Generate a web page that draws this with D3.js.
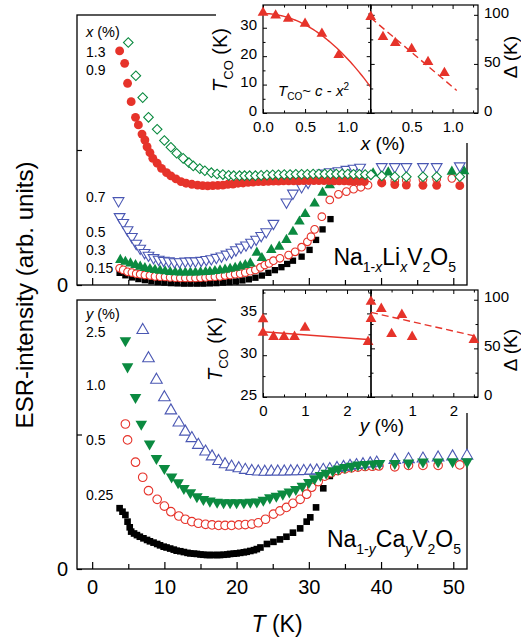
<!DOCTYPE html>
<html>
<head>
<meta charset="utf-8">
<script src="https://cdn.jsdelivr.net/npm/d3@7"></script>
<style>
  body { margin: 0; background: #fff; }
  svg { display: block; font-family: "Liberation Sans", Arial, sans-serif; }
  .axis text { font-size: 20px; fill: #000; }
  .axis line { stroke: #000; stroke-width: 1.2; }
  .inset text { font-size: 15px; }
  .inset line { stroke-width: 1; }
</style>
</head>
<body>
<div id="chart"></div>
<script>
// ---------- Na(1-x)Li(x)V2O5: ESR intensity vs T, [T (K), intensity] ----------
const liLabels = ["1.3", "0.9", "0.7", "0.5", "0.3", "0.15"];

const li13 = [[5.0,0.898],[6.05,0.775],[7.0,0.694],[7.8,0.621],[9.0,0.577],[10.0,0.535],[10.9,0.510],[11.7,0.488],
  [12.6,0.469],[13.4,0.453],[14.0,0.441],[14.9,0.431],[15.6,0.423],[16.5,0.416],[17.3,0.411],[18.1,0.409],[18.9,0.406],
  [19.6,0.405],[20.4,0.405],[21.1,0.405],[21.8,0.405],[22.6,0.405],[23.4,0.406],[24.2,0.407],[25.0,0.408],[25.8,0.408],
  [26.6,0.409],[27.4,0.409],[28.2,0.410],[29.0,0.410],[29.8,0.410],[30.6,0.411],[31.4,0.411],[32.2,0.411],[33.0,0.411],
  [33.8,0.411],[34.6,0.411],[35.4,0.411],[36.2,0.410],[37.0,0.410],[37.8,0.409],[38.6,0.408],[40.1,0.404],[41.9,0.401],
  [43.5,0.401],[45.8,0.401],[47.7,0.401],[50.9,0.401]];

const li09 = [[3.8,0.867],[4.5,0.821],[4.9,0.747],[5.4,0.679],[6.0,0.621],[6.4,0.593],[6.9,0.559],[7.3,0.537],[7.6,0.512],
  [8.0,0.490],[8.4,0.469],[9.0,0.451],[9.6,0.432],[10.3,0.416],[10.9,0.404],[11.6,0.393],[12.3,0.383],[13.0,0.377],
  [13.8,0.373],[14.6,0.370],[15.3,0.368],[16.0,0.367],[16.7,0.368],[17.4,0.369],[18.1,0.370],[18.8,0.373],[19.5,0.374],
  [20.2,0.377],[20.9,0.378],[21.6,0.380],[22.3,0.381],[23.0,0.383],[23.7,0.383],[24.4,0.384],[25.1,0.385],[25.8,0.385],
  [26.5,0.386],[27.2,0.386],[27.9,0.386],[28.6,0.386],[29.3,0.387],[30.0,0.387],[30.7,0.387],[31.4,0.387],[32.1,0.387],
  [32.8,0.387],[33.5,0.386],[34.2,0.386],[34.9,0.386],[35.6,0.385],[36.3,0.385],[37.0,0.384],[37.7,0.383],[40.1,0.378],
  [41.9,0.372],[43.5,0.370],[45.8,0.369],[47.7,0.369],[50.9,0.368]];

const li07 = [[3.65,0.312],[3.8,0.253],[4.3,0.231],[4.9,0.204],[5.5,0.179],[6.1,0.154],[6.65,0.136],[7.25,0.120],[7.8,0.110],
  [8.5,0.101],[9.2,0.095],[9.9,0.091],[10.6,0.089],[11.4,0.086],[12.1,0.086],[12.9,0.088],[13.6,0.089],[14.3,0.089],
  [15.1,0.091],[15.8,0.094],[16.5,0.097],[17.2,0.102],[17.9,0.107],[18.6,0.114],[19.3,0.121],[19.9,0.130],[20.6,0.140],
  [21.3,0.148],[22.0,0.158],[22.7,0.169],[23.4,0.183],[24.1,0.197],[25.1,0.228],[26.9,0.307],[27.8,0.340],[29.0,0.364],
  [29.9,0.380],[30.8,0.399],[31.9,0.414],[32.9,0.419],[34.1,0.423],[35.2,0.428],[36.2,0.432],[37.1,0.436],[40.1,0.438],
  [41.9,0.438],[43.5,0.438],[45.8,0.438],[47.7,0.438],[50.9,0.441]];

const li05 = [[3.9,0.093],[4.6,0.086],[5.3,0.080],[6.0,0.074],[6.65,0.068],[7.3,0.063],[8.0,0.059],[8.7,0.056],[9.4,0.053],
  [10.1,0.051],[10.8,0.048],[11.5,0.047],[12.2,0.046],[12.9,0.046],[13.6,0.046],[14.3,0.046],[15.0,0.047],[15.7,0.048],
  [16.3,0.049],[17.0,0.052],[17.7,0.054],[18.4,0.057],[19.1,0.060],[19.8,0.064],[20.5,0.069],[21.2,0.074],[21.9,0.080],
  [22.8,0.120],[23.5,0.100],[24.8,0.130],[25.9,0.142],[26.9,0.167],[27.8,0.197],[28.7,0.235],[29.5,0.263],[30.8,0.302],
  [31.9,0.342],[32.9,0.370],[34.3,0.389],[35.7,0.401],[37.1,0.407],[38.9,0.414],[41.0,0.417],[49.8,0.420],[51.5,0.421]];

const li03 = [[3.8,0.062],[4.3,0.056],[4.9,0.049],[5.5,0.046],[6.1,0.042],[6.65,0.040],[7.3,0.037],[8.0,0.035],[8.7,0.032],
  [9.4,0.031],[10.1,0.030],[10.8,0.028],[11.5,0.027],[12.2,0.026],[12.9,0.026],[13.6,0.026],[14.3,0.026],[15.0,0.027],
  [15.7,0.028],[16.3,0.030],[17.0,0.031],[17.7,0.032],[18.4,0.035],[19.1,0.037],[19.8,0.040],[20.5,0.042],[21.2,0.046],
  [21.9,0.051],[22.6,0.056],[23.3,0.065],[23.9,0.074],[24.5,0.080],[25.1,0.090],[26.0,0.099],[27.2,0.111],[28.1,0.123],
  [29.0,0.140],[29.8,0.160],[30.3,0.179],[30.8,0.206],[31.8,0.253],[32.9,0.315],[34.1,0.336],[35.2,0.346],[36.2,0.355],
  [37.2,0.362],[38.2,0.370],[40.1,0.380],[41.9,0.385],[43.5,0.388],[45.8,0.391],[47.7,0.393],[49.8,0.395]];

const li015 = [[3.8,0.045],[4.6,0.036],[5.5,0.028],[6.4,0.022],[7.3,0.018],[8.2,0.014],[9.1,0.011],[10.0,0.009],[10.9,0.007],
  [11.8,0.006],[12.7,0.005],[13.6,0.005],[14.5,0.005],[15.4,0.005],[16.3,0.006],[17.2,0.007],[18.1,0.009],[19.0,0.011],
  [19.9,0.013],[20.8,0.017],[21.7,0.021],[22.6,0.027],[23.5,0.035],[24.4,0.045],[25.3,0.055],[26.2,0.066],[27.0,0.078],
  [27.8,0.090],[29.0,0.105],[30.1,0.130],[31.0,0.167],[31.9,0.206],[33.0,0.244]];

// ---------- Na(1-y)Ca(y)V2O5 ----------
const caLabels = ["2.5", "1.0", "0.5", "0.25"];

const ca25 = [[7.0,0.888],[7.8,0.783],[8.9,0.703],[10.0,0.638],[10.9,0.589],[12.0,0.544],[12.9,0.510],[13.8,0.486],
  [14.7,0.461],[15.7,0.436],[16.6,0.418],[17.5,0.401],[18.4,0.389],[19.3,0.380],[20.3,0.374],[21.2,0.368],[22.1,0.364],
  [23.0,0.362],[23.9,0.361],[24.8,0.362],[25.7,0.362],[26.6,0.362],[27.5,0.363],[28.4,0.363],[29.3,0.364],[30.2,0.365],
  [31.1,0.366],[32.0,0.368],[32.9,0.371],[33.9,0.375],[34.8,0.379],[35.7,0.383],[36.6,0.386],[37.5,0.389],[38.5,0.392],
  [39.4,0.395],[41.9,0.405],[43.8,0.408],[45.8,0.410],[47.9,0.414],[49.9,0.418],[51.9,0.421]];

const ca10 = [[4.6,0.849],[4.9,0.752],[6.0,0.638],[6.8,0.539],[7.95,0.465],[8.9,0.411],[10.0,0.374],[11.0,0.343],
  [11.9,0.321],[12.7,0.300],[13.6,0.284],[14.5,0.269],[15.4,0.259],[16.3,0.253],[17.3,0.249],[18.2,0.247],[19.1,0.247],
  [20.0,0.247],[21.0,0.247],[21.9,0.249],[22.8,0.250],[23.7,0.256],[24.6,0.265],[25.5,0.271],[26.4,0.279],[27.3,0.287],
  [28.2,0.296],[29.1,0.308],[30.0,0.322],[30.8,0.336],[31.6,0.348],[32.4,0.357],[33.3,0.366],[34.1,0.372],[35.0,0.378],
  [35.9,0.383],[36.8,0.387],[37.8,0.389],[38.9,0.391],[39.8,0.393],[41.9,0.393],[43.8,0.395],[45.8,0.398],[47.9,0.398],
  [49.9,0.399],[51.9,0.399]];

const ca05 = [[4.6,0.539],[4.9,0.480],[6.0,0.397],[7.0,0.341],[7.8,0.291],[9.0,0.259],[10.0,0.234],[10.9,0.213],
  [12.0,0.197],[12.9,0.185],[13.8,0.176],[14.7,0.170],[15.7,0.166],[16.6,0.164],[17.5,0.162],[18.4,0.162],[19.3,0.162],
  [20.3,0.164],[21.2,0.165],[22.1,0.167],[23.0,0.172],[24.0,0.185],[25.1,0.204],[26.0,0.216],[26.9,0.229],[27.8,0.244],
  [28.8,0.259],[29.7,0.278],[30.4,0.304],[31.3,0.325],[32.2,0.345],[33.1,0.358],[34.0,0.366],[35.0,0.372],[35.9,0.376],
  [36.8,0.379],[37.8,0.381],[38.8,0.382],[39.7,0.383],[41.9,0.380],[43.8,0.385],[45.8,0.385],[47.9,0.385],[50.9,0.387]];

const ca025 = [[3.8,0.226],[4.2,0.213],[4.6,0.201],[4.9,0.176],[5.2,0.155],[5.4,0.139],[5.8,0.132],[6.2,0.126],[6.6,0.120],
  [7.1,0.114],[7.6,0.108],[8.0,0.103],[8.5,0.098],[9.0,0.093],[9.4,0.088],[9.9,0.083],[10.3,0.080],[10.8,0.076],
  [11.3,0.072],[11.7,0.068],[12.2,0.066],[12.7,0.063],[13.2,0.060],[13.6,0.058],[14.1,0.057],[14.5,0.056],[15.0,0.054],
  [15.4,0.053],[15.9,0.052],[16.3,0.052],[16.8,0.052],[17.3,0.052],[17.7,0.052],[18.2,0.053],[18.7,0.054],[19.1,0.056],
  [19.6,0.057],[20.0,0.058],[20.5,0.060],[21.0,0.062],[21.4,0.064],[21.9,0.067],[22.4,0.070],[22.8,0.074],[23.3,0.080],
  [24.2,0.093],[25.1,0.101],[26.0,0.110],[26.9,0.120],[27.8,0.135],[28.8,0.151],[29.7,0.176],[30.2,0.192],[31.0,0.229],
  [32.0,0.300],[32.9,0.346],[33.9,0.362]];

// ---------- insets: charge-order temperature and gap vs doping ----------
const liDoping = [0, 0.15, 0.3, 0.5, 0.7, 0.9];
const liTco = [35.3, 34.3, 33.2, 31.4, 27.9, 20.4];
const liDelta = [98, 77.5, 71.4, 65.3, 52, 40.8];
const liTcoFit = { c: 35, a: 15.8 };            // Tco = c - a x^2
const liDeltaFit = [[0, 97], [1.05, 23]];

const caDoping = [0, 0, 0.25, 0.5, 0.75, 1.0, 2.5];
const caTco = [34.3, 32.7, 32.2, 32.2, 32.2, 33.3, 31.6];
const caDelta = [97.9, 80.4, 90.7, 64.9, 84.5, 61.9, 58.8];
const caTcoFit = [[0, 32.8], [2.57, 31.85]];
const caDeltaFit = [[0, 87], [2.6, 62]];

// ---------- drawing ----------
const W = 521, H = 644;
const RED = "#e6332a", GREEN = "#0b8a40", BLUE = "#4a57b3";

const svg = d3.select("#chart").append("svg").attr("width", W).attr("height", H);

const x = d3.scaleLinear().domain([-2.1, 51.9]).range([77, 467]);
const yTop = d3.scaleLinear().domain([0, 1]).range([285, 15]);
const yBot = d3.scaleLinear().domain([0, 1]).range([569, 300]);

const shapes = {
  circle: [d3.symbolCircle, 0],
  square: [d3.symbolSquare, 0],
  up: [d3.symbolTriangle, 0],
  down: [d3.symbolTriangle, 180],
  diamond: [d3.symbolSquare, 45]
};

function drawMarkers(g, xs, ys, pts, s) {
  const [type, rot] = shapes[s.shape];
  g.append("g").selectAll("path").data(pts).join("path")
    .attr("d", d3.symbol().type(type).size(s.size))
    .attr("transform", d => `translate(${xs(d[0])},${ys(d[1])}) rotate(${rot})`)
    .attr("fill", s.open ? "#fff" : s.color)
    .attr("stroke", s.open ? s.color : "none")
    .attr("stroke-width", 1.1);
}

function drawPanel(y, series, withLabels) {
  const [yb, yt] = y.range();
  const g = svg.append("g");
  g.append("g").attr("class", "axis").attr("transform", `translate(0,${yb})`)
    .call(d3.axisBottom(x).tickValues(d3.range(0, 51, 10)).tickSize(-7).tickPadding(11)
      .tickFormat(withLabels ? d3.format("d") : ""));
  g.append("g").attr("class", "axis").attr("transform", `translate(0,${yb})`)
    .call(d3.axisBottom(x).tickValues(d3.range(5, 51, 10)).tickSize(-5).tickFormat(""));
  g.append("g").attr("class", "axis").attr("transform", `translate(${x.range()[0]},0)`)
    .call(d3.axisLeft(y).tickValues([0, 0.5]).tickSize(-5).tickPadding(9)
      .tickFormat(d => d === 0 ? "0" : ""));
  g.selectAll(".domain").remove();
  g.append("rect")
    .attr("x", x.range()[0]).attr("y", yt)
    .attr("width", x.range()[1] - x.range()[0]).attr("height", yb - yt)
    .attr("fill", "none").attr("stroke", "#000").attr("stroke-width", 1.3);
  series.forEach(s => drawMarkers(g, x, y, s.data, s));
}

// text built from [string, subscript?, italic?, superscript?] pieces
function richText(g, px, py, parts, size, subSize, opts = {}) {
  const t = g.append("text")
    .attr("x", px).attr("y", py)
    .attr("font-size", size)
    .attr("text-anchor", opts.anchor || "start");
  if (opts.rotate) t.attr("transform", `rotate(-90,${px},${py})`);
  const off = opts.subOffset || size * 0.28;
  let shift = 0;
  parts.forEach(([str, sub, ital, sup]) => {
    const want = sub ? off : sup ? -size * 0.38 : 0;
    t.append("tspan")
      .attr("dy", want - shift)
      .attr("font-size", sub || sup ? subSize : size)
      .attr("font-style", ital ? "italic" : null)
      .text(str);
    shift = want;
  });
  return t;
}

drawPanel(yTop, [
  { data: li015, shape: "square", color: "#000", size: 40 },
  { data: li03, shape: "circle", color: RED, open: true, size: 46 },
  { data: li05, shape: "up", color: GREEN, size: 48 },
  { data: li07, shape: "down", color: BLUE, open: true, size: 50 },
  { data: li09, shape: "circle", color: RED, size: 62 },
  { data: li13, shape: "diamond", color: GREEN, open: true, size: 46 }
], false);

drawPanel(yBot, [
  { data: ca025, shape: "square", color: "#000", size: 44 },
  { data: ca05, shape: "circle", color: RED, open: true, size: 58 },
  { data: ca25, shape: "up", color: BLUE, open: true, size: 58 },
  { data: ca10, shape: "down", color: GREEN, size: 58 }
], true);

// legend columns at the left of each panel
const lg = svg.append("g").attr("font-size", 14);
richText(lg, 86, 37, [["x", 0, 1], [" (%)"]], 14.5, 14.5);
[57, 75, 202, 237, 255, 273].forEach((by, i) =>
  lg.append("text").attr("x", 86).attr("y", by).text(liLabels[i]));
richText(lg, 86, 319, [["y", 0, 1], [" (%)"]], 14.5, 14.5);
[337, 390, 445, 500].forEach((by, i) =>
  lg.append("text").attr("x", 86).attr("y", by).text(caLabels[i]));

// compound names
richText(svg, 456, 265,
  [["Na"], ["1-", 1], ["x", 1, 1], ["Li"], ["x", 1, 1], ["V"], ["2", 1], ["O"], ["5", 1]],
  23, 14, { anchor: "end", subOffset: 6.5 });
richText(svg, 461, 547,
  [["Na"], ["1-", 1], ["y", 1, 1], ["Ca"], ["y", 1, 1], ["V"], ["2", 1], ["O"], ["5", 1]],
  23, 14, { anchor: "end", subOffset: 6.5 });

// main axis titles
richText(svg, 277, 632, [["T", 0, 1], [" (K)"]], 23, 23, { anchor: "middle" });
svg.append("text")
  .attr("transform", "translate(33,295) rotate(-90)")
  .attr("text-anchor", "middle").attr("font-size", 24)
  .text("ESR-intensity (arb. units)");

// ---------- inset panels ----------
function insetPanel(px0, px1, py0, py1, xDomain, yDomain, o) {
  const xs = d3.scaleLinear().domain(xDomain).range([px0, px1]);
  const ys = d3.scaleLinear().domain(yDomain).range([py1, py0]);
  const g = svg.append("g").attr("class", "inset");
  const put = (axis, tx, ty, vals, len, fmt, pad) =>
    g.append("g").attr("transform", `translate(${tx},${ty})`)
      .call(axis.tickValues(vals).tickSize(-len).tickPadding(pad || 5).tickFormat(fmt || ""));
  put(d3.axisBottom(xs), 0, py1, o.xMajor, 4, o.xFmt, 8);
  put(d3.axisBottom(xs), 0, py1, o.xMinor, 2.5);
  put(d3.axisTop(xs), 0, py0, o.xMajor, 4);
  put(d3.axisTop(xs), 0, py0, o.xMinor, 2.5);
  const left = o.ySide === "left";
  put(left ? d3.axisLeft(ys) : d3.axisRight(ys), left ? px0 : px1, 0, o.yMajor, 4, o.yFmt, 6)
    .selectAll("text").attr("dy", "0.15em");
  put(left ? d3.axisLeft(ys) : d3.axisRight(ys), left ? px0 : px1, 0, o.yMinor, 2.5);
  put(left ? d3.axisRight(ys) : d3.axisLeft(ys), left ? px1 : px0, 0, o.yMajor, 4);
  put(left ? d3.axisRight(ys) : d3.axisLeft(ys), left ? px1 : px0, 0, o.yMinor, 2.5);
  g.selectAll(".domain").remove();
  g.append("rect").attr("x", px0).attr("y", py0).attr("width", px1 - px0).attr("height", py1 - py0)
    .attr("fill", "none").attr("stroke", "#000").attr("stroke-width", 1.2);
  return { g, xs, ys };
}

const tri = { shape: "up", color: RED, size: 50 };

function insetLine(p, pts, dashed) {
  p.g.append("path")
    .attr("d", d3.line().x(d => p.xs(d[0])).y(d => p.ys(d[1]))(pts))
    .attr("fill", "none").attr("stroke", RED).attr("stroke-width", 1.4)
    .attr("stroke-dasharray", dashed ? "7,4" : null);
}

// Li inset
svg.append("rect").attr("x", 216).attr("y", 0).attr("width", W - 216).attr("height", 143).attr("fill", "#fff");
const liL = insetPanel(263, 370.7, 5, 113, [0, 1.28], [0, 38], {
  xMajor: [0, 0.5, 1.0], xMinor: [0.25, 0.75, 1.25], xFmt: d3.format(".1f"),
  yMajor: [0, 10, 20, 30], yMinor: [5, 15, 25, 35], yFmt: d3.format("d"), ySide: "left"
});
const liR = insetPanel(370.7, 478, 5, 113, [0, 1.31], [0, 110], {
  xMajor: [0, 0.5, 1.0], xMinor: [0.25, 0.75, 1.25], xFmt: d => d === 0 ? "" : d3.format(".1f")(d),
  yMajor: [0, 50, 100], yMinor: [25, 75], yFmt: d3.format("d"), ySide: "right"
});
insetLine(liL, d3.range(0, 1.2801, 0.02).map(v => [v, liTcoFit.c - liTcoFit.a * v * v]), false);
insetLine(liR, liDeltaFit, true);
drawMarkers(liL.g, liL.xs, liL.ys, d3.zip(liDoping, liTco), tri);
drawMarkers(liR.g, liR.xs, liR.ys, d3.zip(liDoping, liDelta), tri);
richText(liL.g, 278, 96, [["T", 0, 1], ["CO", 1], ["~ "], ["c", 0, 1], [" - "], ["x", 0, 1], ["2", 0, 0, 1]], 15, 10);
richText(svg, 227, 60, [["T", 0, 1], ["CO", 1], [" (K)"]], 20, 13, { anchor: "middle", rotate: true });
richText(svg, 517, 57, [["Δ (K)"]], 19, 13, { anchor: "middle", rotate: true });
richText(svg, 383, 150, [["x", 0, 1], [" (%)"]], 19, 19, { anchor: "middle" });

// Ca inset
svg.append("rect").attr("x", 216).attr("y", 288).attr("width", W - 216).attr("height", 125).attr("fill", "#fff");
const caL = insetPanel(263, 371, 290, 397, [0, 2.57], [25, 37.8], {
  xMajor: [0, 1, 2], xMinor: [0.5, 1.5, 2.5], xFmt: d3.format("d"),
  yMajor: [25, 30, 35], yMinor: [27.5, 32.5, 37.5], yFmt: d3.format("d"), ySide: "left"
});
const caR = insetPanel(371, 478, 290, 397, [0, 2.6], [0, 110], {
  xMajor: [0, 1, 2], xMinor: [0.5, 1.5, 2.5], xFmt: d => d === 0 ? "" : d3.format("d")(d),
  yMajor: [0, 50, 100], yMinor: [25, 75], yFmt: d3.format("d"), ySide: "right"
});
insetLine(caL, caTcoFit, false);
insetLine(caR, caDeltaFit, true);
drawMarkers(caL.g, caL.xs, caL.ys, d3.zip(caDoping, caTco), tri);
drawMarkers(caR.g, caR.xs, caR.ys, d3.zip(caDoping, caDelta), tri);
richText(svg, 222, 349, [["T", 0, 1], ["CO", 1], [" (K)"]], 20, 13, { anchor: "middle", rotate: true });
richText(svg, 517, 350, [["Δ (K)"]], 19, 13, { anchor: "middle", rotate: true });
richText(svg, 382, 432, [["y", 0, 1], [" (%)"]], 19, 19, { anchor: "middle" });
</script>
</body>
</html>
